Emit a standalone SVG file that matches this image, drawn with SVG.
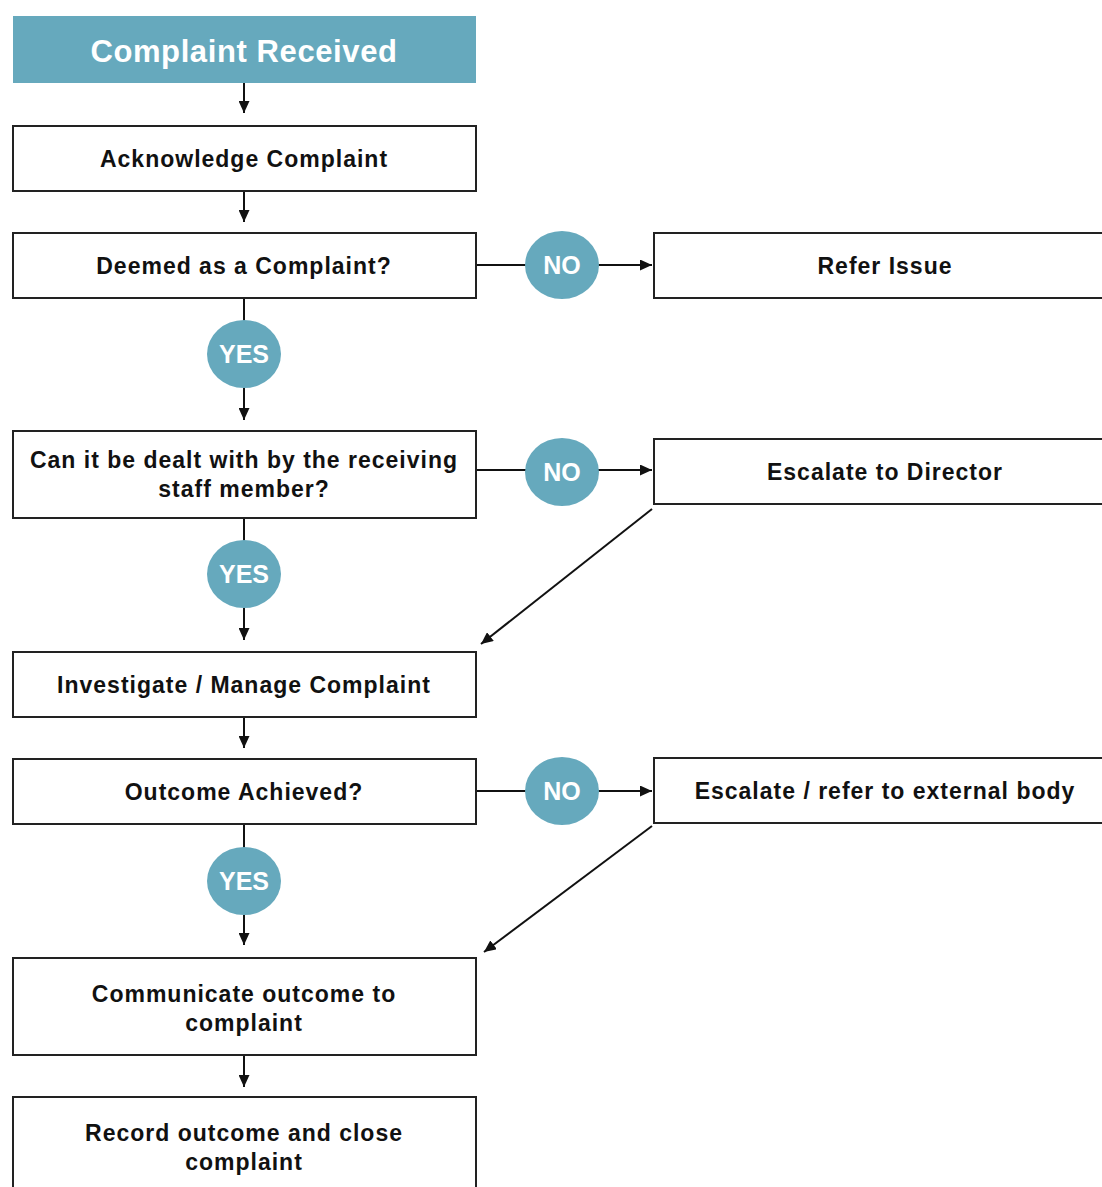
<svg xmlns="http://www.w3.org/2000/svg" width="1102" height="1187" viewBox="0 0 1102 1187">
<style>
.box{fill:#fff;stroke:#222;stroke-width:2}
.hdr{fill:#66a9bd}
.lbl{fill:#66a9bd}
.t{font-family:"Liberation Sans",Arial,sans-serif;font-weight:bold;font-size:23px;letter-spacing:1px;fill:#111;text-anchor:middle}
.th{font-family:"Liberation Sans",Arial,sans-serif;font-weight:bold;font-size:31px;letter-spacing:0.6px;fill:#fff;text-anchor:middle}
.tl{font-family:"Liberation Sans",Arial,sans-serif;font-weight:bold;font-size:25px;fill:#fff;text-anchor:middle}
.c{fill:none;stroke:#111;stroke-width:2}
</style>
<defs>
<marker id="ah" markerUnits="userSpaceOnUse" markerWidth="12" markerHeight="11" refX="12" refY="5.5" orient="auto">
<path d="M0,0 L12,5.5 L0,11 z" fill="#111"/>
</marker>
</defs>
<rect width="1102" height="1187" fill="#fff"/>
<g id="connectors">
<line class="c" x1="244" y1="83" x2="244" y2="113" marker-end="url(#ah)"/>
<line class="c" x1="244" y1="191" x2="244" y2="222" marker-end="url(#ah)"/>
<line class="c" x1="476" y1="265" x2="530" y2="265"/>
<line class="c" x1="596" y1="265" x2="652" y2="265" marker-end="url(#ah)"/>
<line class="c" x1="244" y1="298" x2="244" y2="325"/>
<line class="c" x1="244" y1="385" x2="244" y2="420" marker-end="url(#ah)"/>
<line class="c" x1="476" y1="470" x2="530" y2="470"/>
<line class="c" x1="596" y1="470" x2="652" y2="470" marker-end="url(#ah)"/>
<line class="c" x1="652" y1="509" x2="481" y2="644" marker-end="url(#ah)"/>
<line class="c" x1="244" y1="518" x2="244" y2="545"/>
<line class="c" x1="244" y1="605" x2="244" y2="640" marker-end="url(#ah)"/>
<line class="c" x1="244" y1="717" x2="244" y2="748" marker-end="url(#ah)"/>
<line class="c" x1="476" y1="791" x2="530" y2="791"/>
<line class="c" x1="596" y1="791" x2="652" y2="791" marker-end="url(#ah)"/>
<line class="c" x1="652" y1="826" x2="484" y2="952" marker-end="url(#ah)"/>
<line class="c" x1="244" y1="824" x2="244" y2="852"/>
<line class="c" x1="244" y1="912" x2="244" y2="945" marker-end="url(#ah)"/>
<line class="c" x1="244" y1="1055" x2="244" y2="1087" marker-end="url(#ah)"/>
</g>
<g id="n-received">
<rect class="hdr" x="13" y="16" width="463" height="67"/>
<text class="th" x="244" y="62">Complaint Received</text>
</g>
<g id="n-acknowledge">
<rect class="box" x="13" y="126" width="463" height="65"/>
<text class="t" x="244" y="167">Acknowledge Complaint</text>
</g>
<g id="n-deemed">
<rect class="box" x="13" y="233" width="463" height="65"/>
<text class="t" x="244" y="274">Deemed as a Complaint?</text>
</g>
<g id="n-no1">
<ellipse class="lbl" cx="562" cy="265" rx="37" ry="34"/>
<text class="tl" x="562" y="274">NO</text>
</g>
<g id="n-refer">
<rect class="box" x="654" y="233" width="462" height="65"/>
<text class="t" x="885" y="274">Refer Issue</text>
</g>
<g id="n-yes1">
<ellipse class="lbl" cx="244" cy="354" rx="37" ry="34"/>
<text class="tl" x="244" y="363">YES</text>
</g>
<g id="n-canit">
<rect class="box" x="13" y="431" width="463" height="87"/>
<text class="t" x="244" y="468">Can it be dealt with by the receiving</text>
<text class="t" x="244" y="497">staff member?</text>
</g>
<g id="n-no2">
<ellipse class="lbl" cx="562" cy="472" rx="37" ry="34"/>
<text class="tl" x="562" y="481">NO</text>
</g>
<g id="n-director">
<rect class="box" x="654" y="439" width="462" height="65"/>
<text class="t" x="885" y="480">Escalate to Director</text>
</g>
<g id="n-yes2">
<ellipse class="lbl" cx="244" cy="574" rx="37" ry="34"/>
<text class="tl" x="244" y="583">YES</text>
</g>
<g id="n-investigate">
<rect class="box" x="13" y="652" width="463" height="65"/>
<text class="t" x="244" y="693">Investigate / Manage Complaint</text>
</g>
<g id="n-outcome">
<rect class="box" x="13" y="759" width="463" height="65"/>
<text class="t" x="244" y="800">Outcome Achieved?</text>
</g>
<g id="n-no3">
<ellipse class="lbl" cx="562" cy="791" rx="37" ry="34"/>
<text class="tl" x="562" y="800">NO</text>
</g>
<g id="n-external">
<rect class="box" x="654" y="758" width="462" height="65"/>
<text class="t" x="885" y="799">Escalate / refer to external body</text>
</g>
<g id="n-yes3">
<ellipse class="lbl" cx="244" cy="881" rx="37" ry="34"/>
<text class="tl" x="244" y="890">YES</text>
</g>
<g id="n-communicate">
<rect class="box" x="13" y="958" width="463" height="97"/>
<text class="t" x="244" y="1002">Communicate outcome to</text>
<text class="t" x="244" y="1031">complaint</text>
</g>
<g id="n-record">
<rect class="box" x="13" y="1097" width="463" height="110"/>
<text class="t" x="244" y="1141">Record outcome and close</text>
<text class="t" x="244" y="1170">complaint</text>
</g>
</svg>
